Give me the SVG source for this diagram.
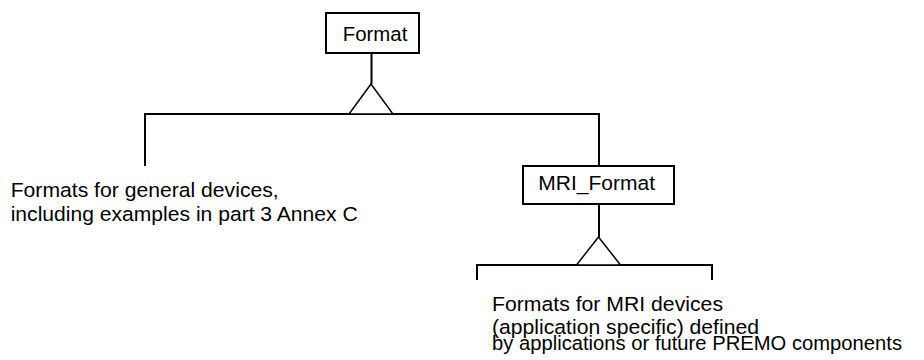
<svg xmlns="http://www.w3.org/2000/svg" width="924" height="360" viewBox="0 0 924 360">
  <style>
    .box { fill: #ffffff; stroke: #000000; stroke-width: 2; }
    .line { fill: none; stroke: #000000; stroke-width: 2; }
    .tri { fill: #ffffff; stroke: #000000; stroke-width: 1.5; }
    text { font-family: "Liberation Sans", Arial, sans-serif; font-size: 20.5px; fill: #000000; }
  </style>
  <rect width="924" height="360" fill="#ffffff"/>

  <g id="connectors">
    <path class="line" d="M371.5,53 V84"/>
    <path class="line" d="M145,166 V114 H599 V166"/>
    <polygon class="tri" points="371,84 349,114 393,114"/>
    <path class="line" d="M599,204 V237"/>
    <path class="line" d="M477,280 V265 H712 V280"/>
    <polygon class="tri" points="598.5,237 576.5,265 620.5,265"/>
  </g>

  <g id="node-format">
    <rect class="box" x="326" y="13" width="93" height="40"/>
    <text x="342.7" y="40.5" textLength="64.7" lengthAdjust="spacingAndGlyphs">Format</text>
  </g>

  <g id="node-mri-format">
    <rect class="box" x="523" y="166" width="151" height="38"/>
    <text x="538.3" y="190" textLength="116.7" lengthAdjust="spacingAndGlyphs">MRI_Format</text>
  </g>

  <g id="node-general-formats">
    <text x="10.7" y="197" textLength="268" lengthAdjust="spacingAndGlyphs">Formats for general devices,</text>
    <text x="10.7" y="221" textLength="347" lengthAdjust="spacingAndGlyphs">including examples in part 3 Annex C</text>
  </g>

  <g id="node-mri-formats">
    <text x="492" y="311" textLength="231" lengthAdjust="spacingAndGlyphs">Formats for MRI devices</text>
    <text x="492" y="334" textLength="267" lengthAdjust="spacingAndGlyphs">(application specific) defined</text>
    <text x="492" y="350" textLength="410" lengthAdjust="spacingAndGlyphs">by applications or future PREMO components</text>
  </g>
</svg>
